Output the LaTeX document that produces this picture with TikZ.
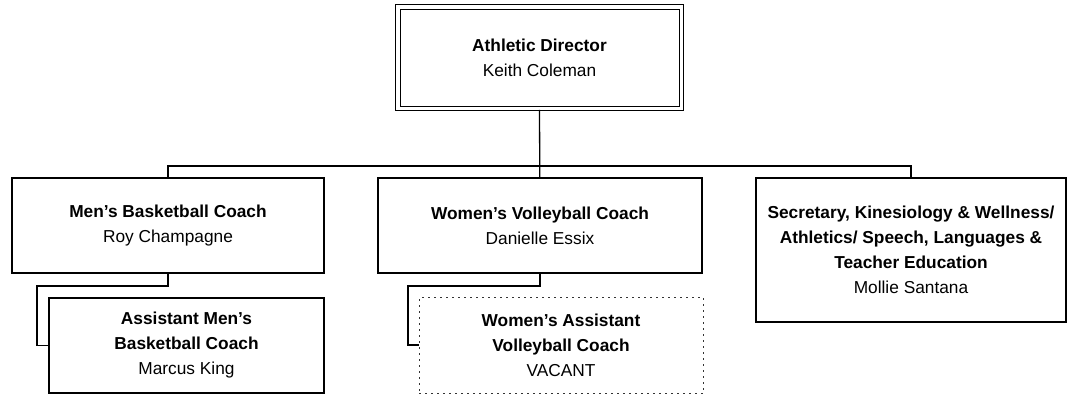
\documentclass[tikz,border=0pt]{standalone}
\usepackage{fontspec}
\setmainfont{Liberation Sans}
\usetikzlibrary{calc}

\begin{document}
\begin{tikzpicture}[x=1pt, y=-1pt, line cap=rect,
		box/.style={draw, line width=1.3pt, align=center, inner sep=0pt,
			font=\fontsize{17.3}{25}\selectfont},
		link/.style={line width=1.3pt}]
%		\draw[help lines] (0,0) grid[step=50] (1068,397);
		\useasboundingbox (0,0) rectangle (1068,397);
		
		\node[box, line width=1pt, minimum width=279pt, minimum height=97pt] (AD) at (539.5,57.5)
			{\textbf{Athletic Director}\\Keith Coleman};
		\node[box, minimum width=312pt, minimum height=95pt] (MBC) at (168,225.5)
			{\textbf{Men’s Basketball Coach}\\Roy Champagne};
		\node[box, minimum width=324pt, minimum height=95pt] (WVC) at (540,225.5)
			{\textbf{Women’s Volleyball Coach}\\Danielle Essix};
		\node[box, minimum width=310pt, minimum height=144pt] (SEC) at (911,250)
			{\textbf{Secretary, Kinesiology \& Wellness/}\\
			 \textbf{Athletics/ Speech, Languages \&}\\
			 \textbf{Teacher Education}\\Mollie Santana};
		\node[box, minimum width=275pt, minimum height=95pt] (AMBC) at (186.5,345.5)
			{\textbf{Assistant Men’s}\\\textbf{Basketball Coach}\\Marcus King};
		\node[box, draw=black!80, line width=1pt, dash pattern=on 1pt off 5pt,
			minimum width=284pt, minimum height=96pt] (WAVC) at (561,345)
			{\textbf{Women’s Assistant}\\\textbf{Volleyball Coach}\\VACANT};
		
		% outer line of the double frame
		\draw[line width=1pt] ($(AD.north west)+(-4,-4)$) rectangle ($(AD.south east)+(4,4)$);
		
		\coordinate (bar) at (540,166);
		\coordinate (Mbend) at (37,286);
		\coordinate (Wbend) at (408,286);
		
		\draw[link] ($(AD.south)+(0,4)$) -- (WVC);
		\draw[link] (MBC.north) |- (bar) -| (SEC.north);
		\draw[link] (MBC.south) |- (Mbend) |- (AMBC.west);
		\draw[link] (WVC.south) |- (Wbend) |- (WAVC.west);
	\end{tikzpicture}
\end{document}
